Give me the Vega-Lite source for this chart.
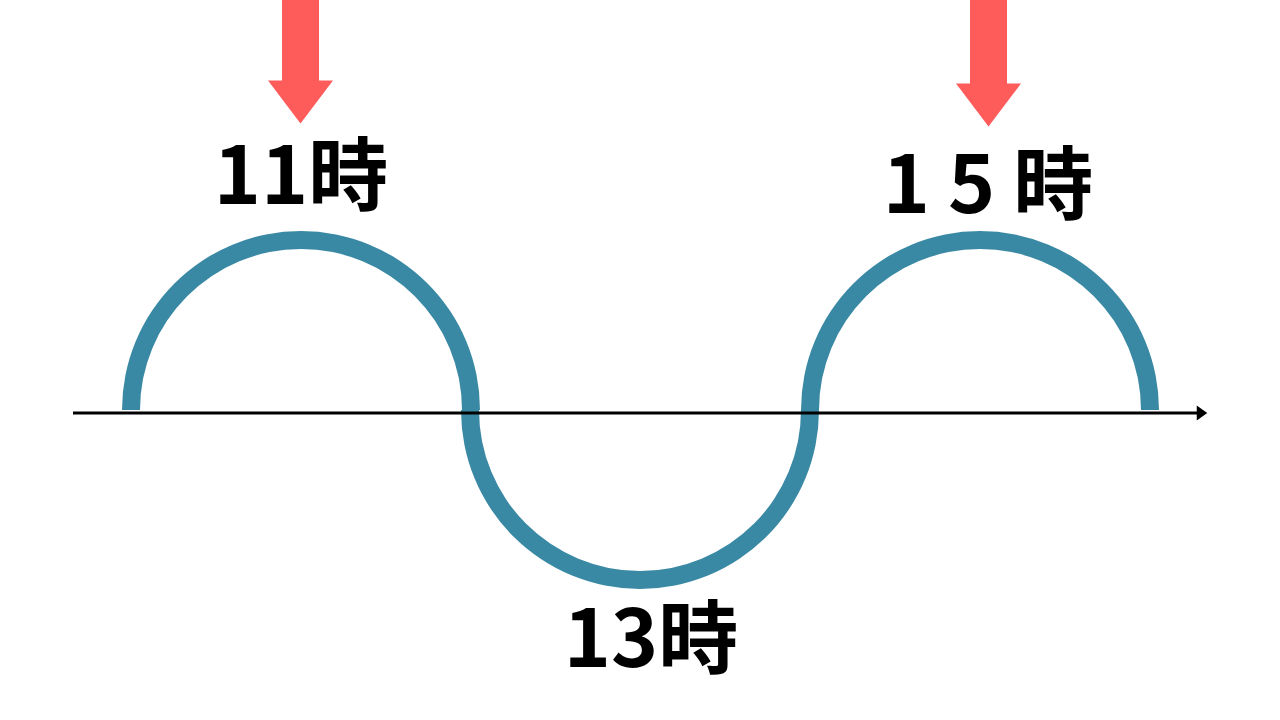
{
  "$schema": "https://vega.github.io/schema/vega-lite/v6.json",
  "width": 1280,
  "height": 720,
  "autosize": {"type": "fit", "contains": "padding"},
  "padding": 0,
  "background": "white",
  "config": {"view": {"stroke": null}},
  "datasets": {
    "arcs": [
      {"cx": 301, "cy": 410, "start": -1.5708, "end": 1.5708},
      {"cx": 640, "cy": 410, "start": 1.5708, "end": 4.7124},
      {"cx": 980, "cy": 410, "start": -1.5708, "end": 1.5708}
    ],
    "axisline": [{"x1": 73, "x2": 1200, "y": 413}],
    "axishead": [{"x": 1202, "y": 413}],
    "shafts": [
      {"xl": 282, "xr": 319, "top": 0, "bottom": 84},
      {"xl": 970, "xr": 1007, "top": 0, "bottom": 86}
    ],
    "heads": [
      {"x": 300.5, "y": 102},
      {"x": 988.5, "y": 105}
    ],
    "labels": [
      {"x": 301, "y": 204, "label": "11時"},
      {"x": 988, "y": 213, "label": "1 5 時"},
      {"x": 651, "y": 667, "label": "13時"}
    ]
  },
  "layer": [
    {
      "data": {"name": "arcs"},
      "mark": {"type": "arc", "innerRadius": 161, "outerRadius": 179, "color": "#3A89A4"},
      "encoding": {
        "x": {"field": "cx", "type": "quantitative", "scale": {"domain": [0, 1280], "nice": false, "zero": false}, "axis": null},
        "y": {"field": "cy", "type": "quantitative", "scale": {"domain": [0, 720], "nice": false, "zero": false, "reverse": true}, "axis": null},
        "theta": {"field": "start", "type": "quantitative", "scale": null, "stack": null},
        "theta2": {"field": "end"}
      }
    },
    {
      "data": {"name": "axisline"},
      "mark": {"type": "rule", "color": "black", "strokeWidth": 3},
      "encoding": {
        "x": {"field": "x1", "type": "quantitative"},
        "x2": {"field": "x2"},
        "y": {"field": "y", "type": "quantitative"}
      }
    },
    {
      "data": {"name": "axishead"},
      "mark": {"type": "point", "shape": "M-0.7,-1L0.7,0L-0.7,1Z", "size": 225, "filled": true, "color": "black", "opacity": 1, "strokeWidth": 0},
      "encoding": {
        "x": {"field": "x", "type": "quantitative"},
        "y": {"field": "y", "type": "quantitative"}
      }
    },
    {
      "data": {"name": "shafts"},
      "mark": {"type": "rect", "color": "#FE5B5B"},
      "encoding": {
        "x": {"field": "xl", "type": "quantitative"},
        "x2": {"field": "xr"},
        "y": {"field": "top", "type": "quantitative"},
        "y2": {"field": "bottom"}
      }
    },
    {
      "data": {"name": "heads"},
      "mark": {"type": "point", "shape": "M-1,-0.66L1,-0.66L0,0.66Z", "size": 4225, "filled": true, "color": "#FE5B5B", "opacity": 1, "strokeWidth": 0},
      "encoding": {
        "x": {"field": "x", "type": "quantitative"},
        "y": {"field": "y", "type": "quantitative"}
      }
    },
    {
      "data": {"name": "labels"},
      "mark": {"type": "text", "font": "Noto Sans CJK JP", "fontWeight": "bold", "fontSize": 80, "align": "center", "baseline": "alphabetic", "color": "black"},
      "encoding": {
        "x": {"field": "x", "type": "quantitative"},
        "y": {"field": "y", "type": "quantitative"},
        "text": {"field": "label"}
      }
    }
  ]
}
